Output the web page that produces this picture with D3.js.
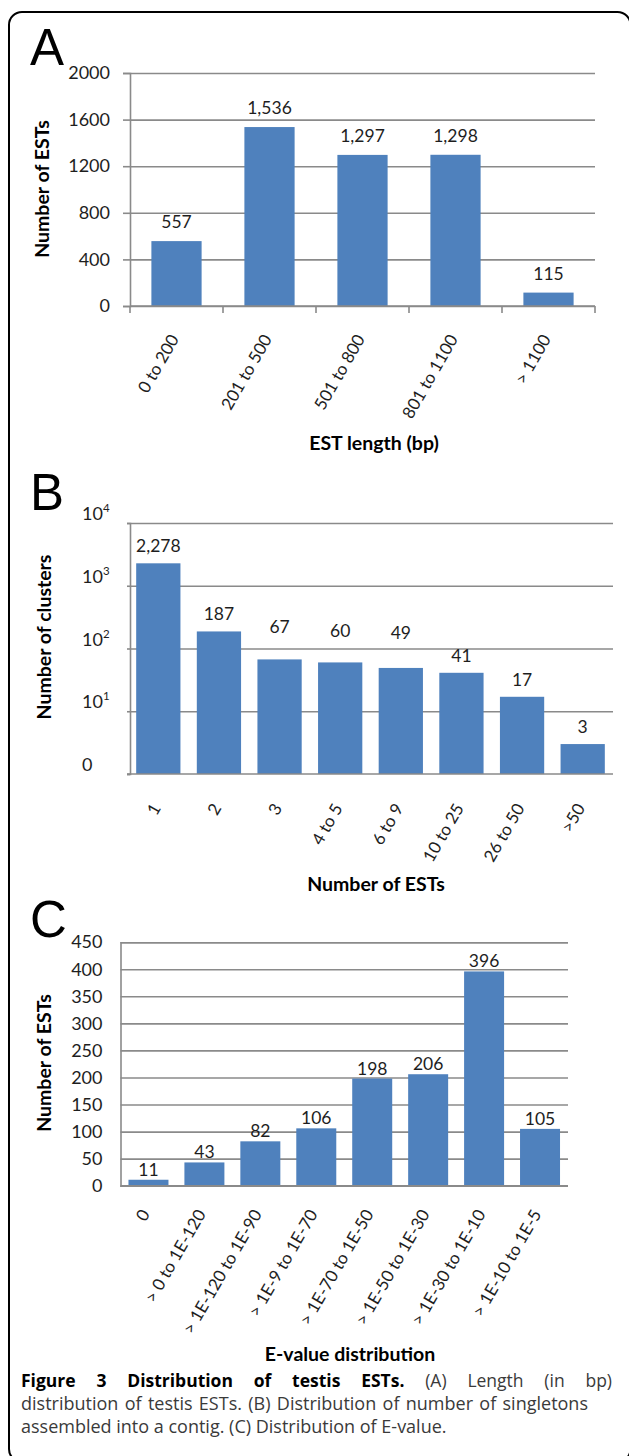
<!DOCTYPE html>
<html>
<head>
<meta charset="utf-8">
<script src="https://cdn.jsdelivr.net/npm/d3@7"></script>
<style>
  body { margin: 0; background: #fff; }
  text { font-family: Lato, "Open Sans", sans-serif; }
  text.cap { font-family: "Open Sans", sans-serif; }
</style>
</head>
<body>
<svg id="fig" width="629" height="1456"></svg>
<script>
// panel A - EST length
const lengthCats = ['0 to 200', '201 to 500', '501 to 800', '801 to 1100', '> 1100'];
const lengthCounts = [557, 1536, 1297, 1298, 115];
const lengthTicks = [0, 400, 800, 1200, 1600, 2000];

// panel B - cluster sizes (log axis)
const clusterCats = ['1', '2', '3', '4 to 5', '6 to 9', '10 to 25', '26 to 50', '>50'];
const clusterCounts = [2278, 187, 67, 60, 49, 41, 17, 3];
const clusterTicks = [1, 10, 100, 1000, 10000];

// panel C - E-value
const evalueCats = ['0', '> 0 to 1E-120', '> 1E-120 to 1E-90', '> 1E-9 to 1E-70', '> 1E-70 to 1E-50',
                    '> 1E-50 to 1E-30', '> 1E-30 to 1E-10', '> 1E-10 to 1E-5'];
const evalueCounts = [11, 43, 82, 106, 198, 206, 396, 105];
const evalueTicks = [0, 50, 100, 150, 200, 250, 300, 350, 400, 450];

const BAR = '#4f81bd', GRID = '#8a8a8a', INK = '#1e1e1e';
const fmt = d3.format(',');

const svg = d3.select('#fig');
svg.append('rect').attr('width', 629).attr('height', 1456).attr('fill', '#fff');

// outer frame, runs off the right and bottom edge
svg.append('rect')
   .attr('x', 9).attr('y', 12).attr('width', 621.5).attr('height', 1450)
   .attr('rx', 13).attr('fill', 'none').attr('stroke', '#000').attr('stroke-width', 2);

// panel letters
[['A', 65], ['B', 510], ['C', 937]].forEach(([l, y]) => {
  svg.append('text').attr('x', 30).attr('y', y).text(l)
     .style('font-family', '"Liberation Sans", Arial, sans-serif')
     .attr('font-size', 51).attr('fill', '#000');
});

function rotLabels(g, x, cats, y0, dx) {
  g.selectAll('.xl').data(cats).enter().append('text')
   .attr('class', 'xl')
   .attr('transform', d => `translate(${x(d) + x.bandwidth() / 2 + dx},${y0}) rotate(-60)`)
   .attr('text-anchor', 'end').attr('font-size', 17).attr('fill', INK)
   .text(d => d);
}

function yTitle(txt, cx, cy) {
  svg.append('text').attr('transform', `translate(${cx},${cy}) rotate(-90)`)
     .attr('text-anchor', 'middle').attr('font-size', 19.5).attr('font-weight', 'bold')
     .attr('fill', '#000').text(txt);
}
function xTitle(txt, cx, y) {
  svg.append('text').attr('x', cx).attr('y', y).attr('text-anchor', 'middle')
     .attr('font-size', 19.5).attr('font-weight', 'bold').attr('fill', '#000').text(txt);
}
function styleAxis(g) {
  g.selectAll('path, line').attr('stroke', GRID).attr('stroke-width', 1.6);
  g.selectAll('text').attr('font-size', 18).attr('fill', INK).style('font-family', 'Lato, sans-serif');
}

// ---------- A ----------
{
  const x = d3.scaleBand().domain(lengthCats).range([130, 595]).paddingInner(0.46).paddingOuter(0.23);
  const y = d3.scaleLinear().domain([0, 2000]).range([306, 73]);
  const g = svg.append('g');

  g.append('g').attr('transform', 'translate(130,0)')
   .call(d3.axisLeft(y).tickValues(lengthTicks).tickSize(-(595 - 130)).tickFormat(''))
   .call(a => a.select('.domain').remove())
   .call(styleAxis);
  g.append('g').attr('transform', 'translate(130,0)')
   .call(d3.axisLeft(y).tickValues(lengthTicks).tickSize(7).tickPadding(13).tickFormat(d3.format('d')))
   .call(styleAxis);

  g.selectAll('.bar').data(lengthCounts).enter().append('rect')
   .attr('x', (d, i) => x(lengthCats[i])).attr('width', x.bandwidth())
   .attr('y', d => y(d)).attr('height', d => y(0) - y(d)).attr('fill', BAR);

  // x axis with ticks at category borders
  g.append('line').attr('x1', 130).attr('x2', 595).attr('y1', y(0)).attr('y2', y(0))
   .attr('stroke', GRID).attr('stroke-width', 1.6);
  g.selectAll('.bt').data(d3.range(lengthCats.length + 1)).enter().append('line')
   .attr('x1', i => x.range()[0] + i * x.step()).attr('x2', i => x.range()[0] + i * x.step())
   .attr('y1', y(0)).attr('y2', y(0) + 7).attr('stroke', GRID).attr('stroke-width', 1.6);

  g.selectAll('.vl').data(lengthCounts).enter().append('text')
   .attr('x', (d, i) => x(lengthCats[i]) + x.bandwidth() / 2).attr('y', d => y(d) - 13)
   .attr('text-anchor', 'middle').attr('font-size', 17.5).attr('fill', INK).text(d => fmt(d));

  rotLabels(g, x, lengthCats, 339, 3);
  xTitle('EST length (bp)', 374, 450);
  yTitle('Number of ESTs', 49, 189);
}

// ---------- B ----------
{
  const x = d3.scaleBand().domain(clusterCats).range([128, 613]).paddingInner(0.27).paddingOuter(0.135);
  const y = d3.scaleLog().domain([1, 10000]).range([774, 523]);
  const g = svg.append('g');
  const lift = {'3': 15, '4 to 5': 14, '6 to 9': 18};

  g.append('g').attr('transform', 'translate(130,0)')
   .call(d3.axisLeft(y).tickValues(clusterTicks.slice(1)).tickSize(-(613 - 130)).tickFormat(''))
   .call(a => a.select('.domain').remove())
   .call(styleAxis);
  g.append('g').attr('transform', 'translate(130,0)')
   .call(d3.axisLeft(y).tickValues(clusterTicks).tickSize(3).tickFormat(''))
   .call(styleAxis);

  // 10^n labels sit just above their grid line
  const tl = g.selectAll('.yl').data(clusterTicks).enter().append('text')
   .attr('x', 82).attr('y', d => y(d) - 3).attr('font-size', 18).attr('fill', INK);
  tl.each(function (d) {
    const t = d3.select(this);
    if (d === 1) { t.text('0'); return; }
    t.append('tspan').text('10');
    t.append('tspan').attr('dy', -8).attr('font-size', 11.5).text(Math.round(Math.log10(d)));
  });

  g.selectAll('.bar').data(clusterCounts).enter().append('rect')
   .attr('x', (d, i) => x(clusterCats[i])).attr('width', x.bandwidth())
   .attr('y', d => y(d)).attr('height', d => y(1) - y(d)).attr('fill', BAR);

  g.append('line').attr('x1', 127).attr('x2', 613).attr('y1', y(1)).attr('y2', y(1))
   .attr('stroke', GRID).attr('stroke-width', 1.6);

  g.selectAll('.vl').data(clusterCounts).enter().append('text')
   .attr('x', (d, i) => x(clusterCats[i]) + x.bandwidth() / 2)
   .attr('y', (d, i) => y(d) - 11 - (lift[clusterCats[i]] || 0))
   .attr('text-anchor', 'middle').attr('font-size', 17.5).attr('fill', INK).text(d => fmt(d));

  rotLabels(g, x, clusterCats, 808, 3);
  xTitle('Number of ESTs', 376, 891);
  yTitle('Number of clusters', 51, 637);
}

// ---------- C ----------
{
  const x = d3.scaleBand().domain(evalueCats).range([120.5, 568]).paddingInner(0.285).paddingOuter(0.1425);
  const y = d3.scaleLinear().domain([0, 450]).range([1185.7, 942.2]);
  const g = svg.append('g');

  g.append('g').attr('transform', 'translate(120.5,0)')
   .call(d3.axisLeft(y).tickValues(evalueTicks).tickSize(-(568 - 120.5)).tickPadding(18).tickFormat(d3.format('d')))
   .call(styleAxis)
   .call(a => a.selectAll('.tick line').attr('x1', 0));

  g.selectAll('.bar').data(evalueCounts).enter().append('rect')
   .attr('x', (d, i) => x(evalueCats[i])).attr('width', x.bandwidth())
   .attr('y', d => y(d)).attr('height', d => y(0) - y(d)).attr('fill', BAR);

  g.append('line').attr('x1', 120.5).attr('x2', 568).attr('y1', y(0)).attr('y2', y(0))
   .attr('stroke', GRID).attr('stroke-width', 1.6);

  g.selectAll('.vl').data(evalueCounts).enter().append('text')
   .attr('x', (d, i) => x(evalueCats[i]) + x.bandwidth() / 2).attr('y', d => y(d) - 4)
   .attr('text-anchor', 'middle').attr('font-size', 17.5).attr('fill', INK).text(d => fmt(d));

  rotLabels(g, x, evalueCats, 1214, 2);
  xTitle('E-value distribution', 350, 1361);
  yTitle('Number of ESTs', 51, 1063);
}

// ---------- caption ----------
{
  const cap = svg.append('g');
  const lines = [];
  const l1 = cap.append('text').attr('class', 'cap').attr('x', 21).attr('y', 1387).attr('font-size', 17.5);
  l1.append('tspan').attr('font-weight', 'bold').attr('fill', '#000').text('Figure 3 Distribution of testis ESTs.');
  l1.append('tspan').attr('fill', '#3a3a3a').text(' (A) Length (in bp)');
  lines.push([l1, 612 - 21]);
  const l2 = cap.append('text').attr('class', 'cap').attr('x', 21).attr('y', 1410).attr('font-size', 18)
    .attr('fill', '#3a3a3a')
    .text('distribution of testis ESTs. (B) Distribution of number of singletons');
  lines.push([l2, 588 - 21]);
  cap.append('text').attr('class', 'cap').attr('x', 21).attr('y', 1433).attr('font-size', 18)
    .attr('fill', '#3a3a3a')
    .text('assembled into a contig. (C) Distribution of E-value.');
  // justify by stretching word gaps
  lines.forEach(([t, w]) => {
    const node = t.node();
    const gaps = node.textContent.split(' ').length - 1;
    const extra = (w - node.getComputedTextLength()) / gaps;
    t.style('word-spacing', extra + 'px');
  });
}
</script>
</body>
</html>
